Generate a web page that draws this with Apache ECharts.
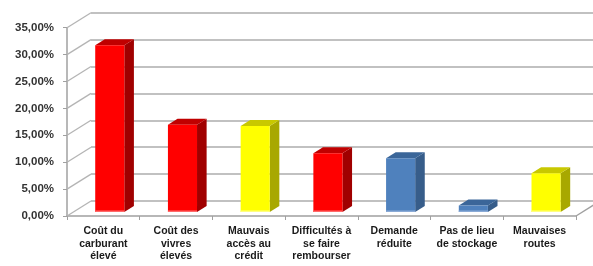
<!DOCTYPE html>
<html>
<head>
<meta charset="utf-8">
<script src="https://cdn.jsdelivr.net/npm/echarts@6/dist/echarts.min.js"></script>
<style>html,body{margin:0;padding:0;background:#fff}#c{width:593px;height:266px}</style>
</head>
<body>
<div id="c"></div>
<script>
// ---- data ----
const categories = [
  'Coût du\ncarburant\nélevé',
  'Coût des\nvivres\nélevés',
  'Mauvais\naccès au\ncrédit',
  'Difficultés à\nse faire\nrembourser',
  'Demande\nréduite',
  'Pas de lieu\nde stockage',
  'Mauvaises\nroutes'
];
const values = [31.0, 16.2, 16.0, 10.9, 10.0, 1.2, 7.2];
const yTicks = [0, 5, 10, 15, 20, 25, 30, 35];

// ---- style ----
const RED = { front: '#ff0000', side: '#a00000', top: '#c00000', foot: '#ff6a6a' };
const YEL = { front: '#ffff00', side: '#a8a800', top: '#c8c800', foot: '#ffff80' };
const BLU = { front: '#4f81bd', side: '#375d8a', top: '#3b6699', foot: '#8aaad6' };
const barStyles = [RED, RED, YEL, RED, BLU, BLU, YEL];
const DX = 24, DY = 15;        // depth offset of the back wall
const F0 = 0.267, F1 = 0.667;  // depth of bar front / back faces

const chart = echarts.init(document.getElementById('c'), null, { renderer: 'canvas' });

function fmt(v) { return v.toFixed(2).replace('.', ',') + '%'; }

chart.setOption({
  animation: false,
  grid: [
    { left: 67, right: 17, top: 27.7, bottom: 50 },
    { left: 91, right: -40, top: 12.7, bottom: 65 }
  ],
  xAxis: [
    {
      type: 'category', data: categories, gridIndex: 0,
      axisLine: { show: true, lineStyle: { color: '#a0a0a0', width: 1.5 } },
      axisTick: { show: true, length: 4, lineStyle: { color: '#a0a0a0' } },
      axisLabel: {
        interval: 0, margin: 9, fontFamily: 'Liberation Sans, Arial, sans-serif',
        fontWeight: 'bold', fontSize: 10.5, lineHeight: 12.5, color: '#1a1a1a'
      },
      splitLine: { show: false }
    },
    { type: 'value', gridIndex: 1, min: 0, max: 1, show: false }
  ],
  yAxis: [
    {
      type: 'value', gridIndex: 0, min: 0, max: 35, interval: 5,
      axisLine: { show: true, lineStyle: { color: '#a0a0a0', width: 1.5 } },
      axisTick: { show: true, length: 4, lineStyle: { color: '#a0a0a0' } },
      axisLabel: {
        margin: 13, fontFamily: 'Liberation Sans, Arial, sans-serif',
        fontWeight: 'bold', fontSize: 11.5, color: '#333', formatter: fmt
      },
      splitLine: { show: false }
    },
    {
      type: 'value', gridIndex: 1, min: 0, max: 35, interval: 5,
      axisLine: { show: false }, axisTick: { show: false }, axisLabel: { show: false },
      splitLine: { show: true, lineStyle: { color: '#acacac', width: 1.6 } }
    }
  ],
  series: [
    {
      type: 'custom', xAxisIndex: 0, yAxisIndex: 0, silent: true, z: 1,
      data: yTicks.map(v => [0, v]),
      renderItem(params, api) {
        const cs = params.coordSys;
        const y = api.coord([0, api.value(1)])[1];
        const children = [{
          type: 'line',
          shape: { x1: cs.x, y1: y, x2: cs.x + DX, y2: y - DY },
          style: { stroke: '#b4b4b4', lineWidth: 1.3 }
        }];
        if (params.dataIndex === 0) {
          children.push({
            type: 'line',
            shape: { x1: cs.x + cs.width, y1: y, x2: cs.x + cs.width + DX, y2: y - DY },
            style: { stroke: '#a0a0a0', lineWidth: 1.3 }
          });
        }
        return { type: 'group', children };
      }
    },
    {
      type: 'custom', xAxisIndex: 0, yAxisIndex: 0, silent: true, z: 5,
      data: values.map((v, i) => [i, v]),
      renderItem(params, api) {
        const i = api.value(0), v = api.value(1);
        const st = barStyles[i];
        const base = api.coord([i, 0]);
        const topP = api.coord([i, v]);
        const w = api.size([1, 0])[0] * 0.4;
        const x0 = base[0] - w / 2 + F0 * DX, x1 = x0 + w;
        const yb = base[1] - F0 * DY, yt = topP[1] - F0 * DY;
        const ddx = (F1 - F0) * DX, ddy = (F1 - F0) * DY;
        return {
          type: 'group',
          children: [
            { type: 'polygon', shape: { points: [[x1, yt], [x1 + ddx, yt - ddy], [x1 + ddx, yb - ddy], [x1, yb]] },
              style: { fill: st.side } },
            { type: 'polygon', shape: { points: [[x0, yt], [x0 + ddx, yt - ddy], [x1 + ddx, yt - ddy], [x1, yt]] },
              style: { fill: st.top } },
            { type: 'rect', shape: { x: x0, y: yt, width: w, height: yb - yt },
              style: { fill: st.front } },
            { type: 'rect', shape: { x: x0, y: yb - 1.5, width: w, height: 1.5 },
              style: { fill: st.foot } }
          ]
        };
      }
    }
  ]
});
</script>
</body>
</html>
